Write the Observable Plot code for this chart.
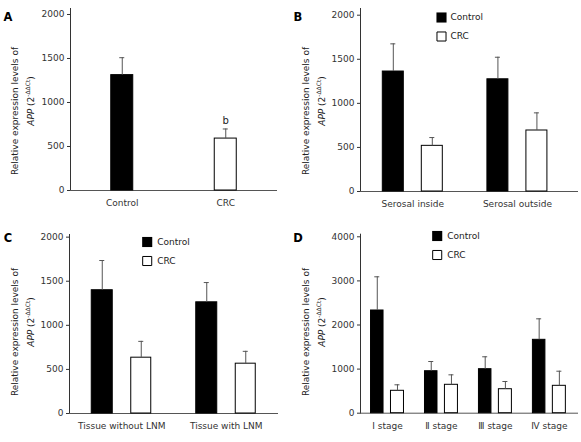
<!DOCTYPE html>
<html><head><meta charset="utf-8">
<script src="https://cdn.jsdelivr.net/npm/d3@7"></script>
<script src="https://cdn.jsdelivr.net/npm/@observablehq/plot@0.6"></script>
<style>
html,body{margin:0;padding:0;background:#fff;}
#fig{position:relative;width:581px;height:442px;overflow:hidden;}
#fig svg{position:absolute;}
</style></head><body><div id="fig"></div>
<script>
// ---------- data ----------
const seriesNames = ["Control", "CRC"];
const seriesFill = ["#000000", "#ffffff"];

// Panel A
const aGroups = ["Control", "CRC"];
const aMean = [1311, 590];
const aErr = [198, 109];
const aNote = ["", "b"];
const aTicks = [0, 500, 1000, 1500, 2000];

// Panel B
const bGroups = ["Serosal inside", "Serosal outside"];
const bControl = [1361, 1273];
const bControlErr = [314, 250];
const bCRC = [518, 692];
const bCRCErr = [94, 200];
const bTicks = [0, 500, 1000, 1500, 2000];

// Panel C
const cGroups = ["Tissue without LNM", "Tissue with LNM"];
const cControl = [1398, 1261];
const cControlErr = [337, 224];
const cCRC = [633, 565];
const cCRCErr = [185, 140];
const cTicks = [0, 500, 1000, 1500, 2000];

// Panel D
const dGroups = ["Ⅰ stage", "Ⅱ stage", "Ⅲ stage", "Ⅳ stage"];
const dControl = [2329, 952, 998, 1664];
const dControlErr = [764, 220, 281, 476];
const dCRC = [508, 644, 544, 621];
const dCRCErr = [136, 226, 175, 331];
const dTicks = [0, 1000, 2000, 3000, 4000];

const yTitle1 = "Relative expression levels of";
const yTitleGene = "APP";
const yTitleSup = "-ΔΔCt";

// ---------- helpers ----------
const FONT = "DejaVu Sans";
const AX = "#555";
const ERR = "#555";

function pairedRows(groups, ctl, ctlErr, crc, crcErr) {
  return groups.flatMap((g, i) => [
    {group: g, series: seriesNames[0], value: ctl[i], err: ctlErr[i]},
    {group: g, series: seriesNames[1], value: crc[i], err: crcErr[i]}
  ]);
}

function makePanel(cfg) {
  const n = cfg.groups.length;
  const bw = (cfg.width - cfg.mL - cfg.mR) / (n + 2 * cfg.po);
  const marks = [Plot.ruleY([0], {stroke: AX})];
  seriesNames.forEach((s, si) => {
    const g = cfg.geom[s];
    const rows = cfg.rows.filter(d => d.series === s);
    if (!rows.length) return;
    marks.push(Plot.barY(rows, {
      x: "group", y: "value", fill: "series", stroke: "#000", strokeWidth: 1,
      insetLeft: bw / 2 + g.off - g.w / 2, insetRight: bw / 2 - g.off - g.w / 2
    }));
    marks.push(Plot.ruleX(rows, {
      x: "group", y1: "value", y2: d => d.value + d.err, dx: g.off, stroke: ERR, strokeWidth: 1
    }));
    const cw = 5;
    marks.push(Plot.tickY(rows, {
      x: "group", y: d => d.value + d.err, stroke: ERR, strokeWidth: 1,
      insetLeft: bw / 2 + g.off - cw / 2, insetRight: bw / 2 - g.off - cw / 2
    }));
  });
  if (cfg.notes) {
    marks.push(Plot.text(cfg.rows.filter(d => d.note), {
      x: "group", y: d => d.value + d.err, text: "note", dy: -5, lineAnchor: "bottom",
      fontSize: 10, fill: "#222"
    }));
  }
  if (cfg.legend) {
    const L = cfg.legend;
    seriesNames.forEach((s, i) => {
      marks.push(Plot.dot([s], {
        frameAnchor: "top-left", dx: L.dx, dy: L.dy + i * L.gap, symbol: "square",
        r: i === 0 ? 5.7 : 5.1, fill: seriesFill[i], stroke: "#000", strokeWidth: i === 0 ? 0 : 1
      }));
      marks.push(Plot.text([s], {
        frameAnchor: "top-left", dx: L.tx, dy: L.dy + i * L.gap, text: d => d,
        textAnchor: "start", lineAnchor: "middle", fontSize: 9, fill: "#222"
      }));
    });
  }
  const svg = Plot.plot({
    width: cfg.width, height: cfg.height,
    marginLeft: cfg.mL, marginRight: cfg.mR, marginTop: cfg.mT, marginBottom: cfg.mB,
    style: {fontFamily: FONT, fontSize: "9px", color: "#333", background: "transparent", overflow: "visible"},
    x: {domain: cfg.groups, paddingInner: 0, paddingOuter: cfg.po, align: cfg.align, round: false,
        tickSize: 0, tickPadding: 9, label: null},
    y: {domain: [0, cfg.yMax], ticks: cfg.ticks, tickFormat: d => String(d), tickSize: 3,
        tickPadding: 3, line: true, label: null},
    color: {domain: seriesNames, range: seriesFill},
    marks
  });
  svg.style.left = cfg.left + "px";
  svg.style.top = cfg.top + "px";
  const sel = d3.select(svg);
  // panel letter
  sel.append("text").attr("x", 8).attr("y", 21).attr("font-family", FONT)
    .attr("font-weight", "bold").attr("font-size", 11.5).attr("fill", "#000").text(cfg.letter);
  // y title
  const gt = sel.append("g").attr("font-family", FONT).attr("font-size", 9).attr("fill", "#222")
    .attr("text-anchor", "middle");
  gt.append("text").attr("transform", `translate(${cfg.tx1},111) rotate(-90)`).text(yTitle1);
  const t2 = gt.append("text").attr("transform", `translate(${cfg.tx2},101) rotate(-90)`);
  t2.append("tspan").attr("font-style", "italic").text(yTitleGene);
  t2.append("tspan").text(" (2");
  t2.append("tspan").attr("font-size", 6).attr("dy", -4).text(yTitleSup);
  t2.append("tspan").attr("dy", 4).text(")");
  document.getElementById("fig").appendChild(svg);
}

// ---------- panels ----------
const aRows = aGroups.map((g, i) => ({group: g, series: seriesNames[i], value: aMean[i], err: aErr[i], note: aNote[i]}));
makePanel({
  letter: "A", left: 0, top: 0, width: 290, height: 221, mL: 70, mR: 13, mT: 8, mB: 31,
  yMax: 2068, ticks: aTicks, groups: aGroups, rows: aRows, po: 0, align: 0.5, notes: true,
  geom: {Control: {off: 0, w: 22}, CRC: {off: 0, w: 22}}, legend: null, tx1: 17.5, tx2: 33.5
});
makePanel({
  letter: "B", left: 290, top: 0, width: 291, height: 221, mL: 70, mR: 3, mT: 8, mB: 30,
  yMax: 2076, ticks: bTicks, groups: bGroups,
  rows: pairedRows(bGroups, bControl, bControlErr, bCRC, bCRCErr), po: 0.042, align: 0,
  geom: {Control: {off: -19.5, w: 21}, CRC: {off: 19.5, w: 21}},
  legend: {dx: 81, dy: 9, gap: 19, tx: 90}, tx1: 19, tx2: 35
});
makePanel({
  letter: "C", left: 0, top: 221, width: 290, height: 221, mL: 69, mR: 12, mT: 13, mB: 29,
  yMax: 2030, ticks: cTicks, groups: cGroups,
  rows: pairedRows(cGroups, cControl, cControlErr, cCRC, cCRCErr), po: 0, align: 0.5,
  geom: {Control: {off: -19.5, w: 21}, CRC: {off: 19.5, w: 20}},
  legend: {dx: 77.7, dy: 7.5, gap: 19, tx: 87.7}, tx1: 17.5, tx2: 33.5
});
makePanel({
  letter: "D", left: 290, top: 221, width: 291, height: 221, mL: 70, mR: 3, mT: 12.7, mB: 29.3,
  yMax: 4059, ticks: dTicks, groups: dGroups,
  rows: pairedRows(dGroups, dControl, dControlErr, dCRC, dCRCErr), po: 0.02, align: 0,
  geom: {Control: {off: -10.2, w: 12.5}, CRC: {off: 10, w: 13}},
  legend: {dx: 76.7, dy: 1.8, gap: 19, tx: 86.7}, tx1: 19, tx2: 35
});
</script></body></html>
